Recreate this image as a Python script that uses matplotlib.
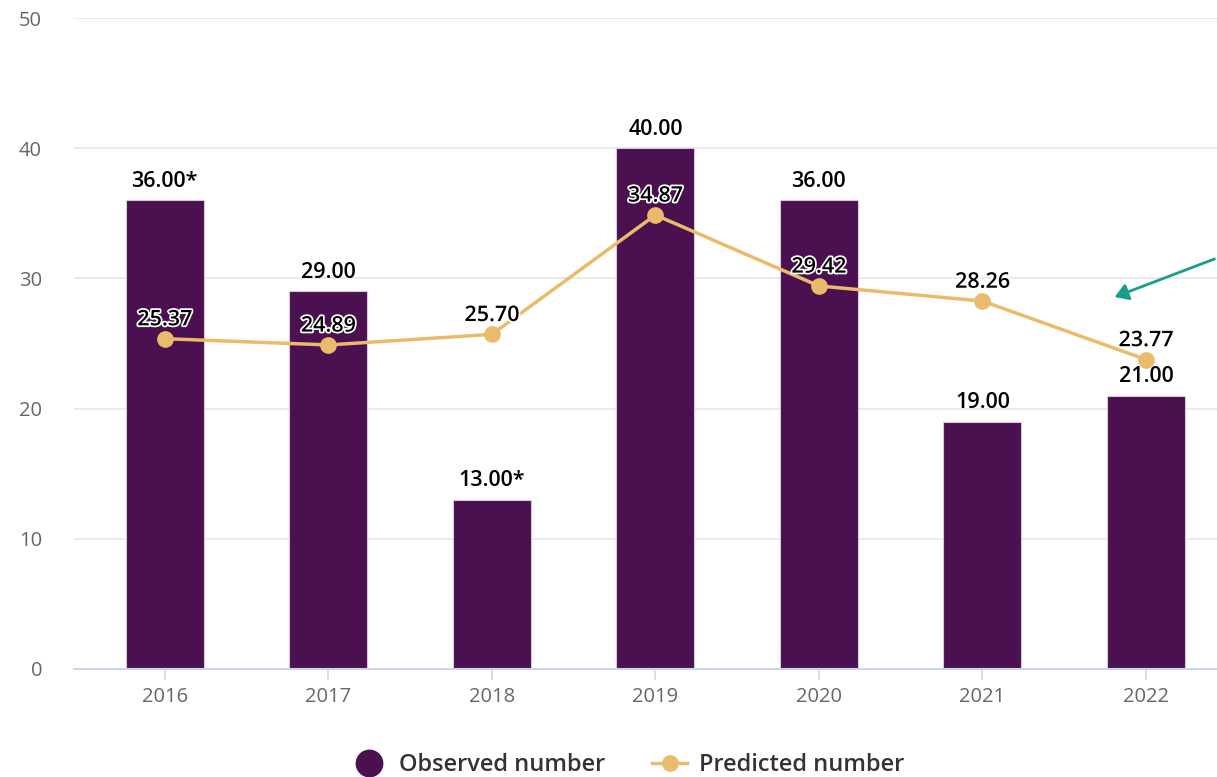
'''
Observed vs predicted number, 2016-2022
'''

import numpy as np
import matplotlib.pyplot as plt
import matplotlib.patheffects as pe
from matplotlib.lines import Line2D
from matplotlib.patches import FancyArrowPatch

plt.rcParams['font.family'] = ['Open Sans', 'DejaVu Sans']

YEARS = ['2016', '2017', '2018', '2019', '2020', '2021', '2022']
OBSERVED = [36.00, 29.00, 13.00, 40.00, 36.00, 19.00, 21.00]
OBSERVED_LABELS = ['36.00*', '29.00', '13.00*', '40.00', '36.00', '19.00', '21.00']
PREDICTED = [25.37, 24.89, 25.70, 34.87, 29.42, 28.26, 23.77]

BAR_COLOR = '#4a1050'
LINE_COLOR = '#ebbb6c'
W, H = 1217, 777

fig = plt.figure(figsize=(W / 100, H / 100), dpi=100)
# axes box in pixels: left 74, right 1217, top y=18 (50), bottom y=669 (0)
ax = fig.add_axes([74 / W, 1 - 669 / H, (1217 - 74) / W, (669 - 18) / H])

x = np.arange(len(YEARS))
step = 163.5
ax.set_xlim(-0.5 - (83 - 74) / step, 6 + (1217 - 1146) / step)
ax.set_ylim(0, 50)

ax.bar(x, OBSERVED, width=0.477, color=BAR_COLOR, edgecolor='#d8c8dc',
       linewidth=0.8, zorder=2)
ax.plot(x, PREDICTED, color=LINE_COLOR, lw=2.5, marker='o', ms=11,
        zorder=3)

for xi, v, lab in zip(x, OBSERVED, OBSERVED_LABELS):
    ax.annotate(lab, (xi, v), xytext=(0, 6), textcoords='offset points',
                ha='center', va='bottom', fontsize=15.5, color='black',
                fontweight='semibold', zorder=4)

for xi, v in zip(x, PREDICTED):
    ax.annotate(f'{v:.2f}', (xi, v), xytext=(0, 6), textcoords='offset points',
                ha='center', va='bottom', fontsize=15.5, color='black',
                fontweight='semibold', zorder=5,
                path_effects=[pe.withStroke(linewidth=2.5, foreground='white')])

ax.set_yticks([0, 10, 20, 30, 40, 50])
ax.set_xticks(x)
ax.set_xticklabels(YEARS)
ax.grid(axis='y', color='#e6e6e6', lw=1.2, zorder=0)
ax.set_axisbelow(True)
for s in ['top', 'right', 'left']:
    ax.spines[s].set_visible(False)
ax.spines['bottom'].set_color('#ccd6eb')
ax.spines['bottom'].set_linewidth(1.5)
ax.tick_params(axis='y', length=0, pad=23, labelsize=14.5, labelcolor='#666666')
ax.tick_params(axis='x', length=8, width=1.2, color='#ccd6eb', pad=5,
               labelsize=14.5, labelcolor='#666666')

handles = [
    Line2D([], [], ls='none', marker='o', ms=19, color=BAR_COLOR),
    Line2D([], [], color=LINE_COLOR, lw=2.5, marker='o', ms=11),
]
leg = fig.legend(handles, ['Observed number', 'Predicted number'],
                 loc='center', bbox_to_anchor=(0.516, 1 - 765 / H), ncol=2,
                 frameon=False, handlelength=1.5,
                 columnspacing=2.0, handletextpad=0.5,
                 prop={'weight': 'semibold', 'size': 17})
for t in leg.get_texts():
    t.set_color('#333333')

# teal arrow entering from the right edge
fig.patches.append(FancyArrowPatch(
    (1217 / W, 1 - 258 / H), (1112 / W, 1 - 298 / H),
    transform=fig.transFigure, arrowstyle='-|>,head_length=8,head_width=5',
    color='#1a9e8c', lw=2))

fig.savefig('out.png', dpi=100)
